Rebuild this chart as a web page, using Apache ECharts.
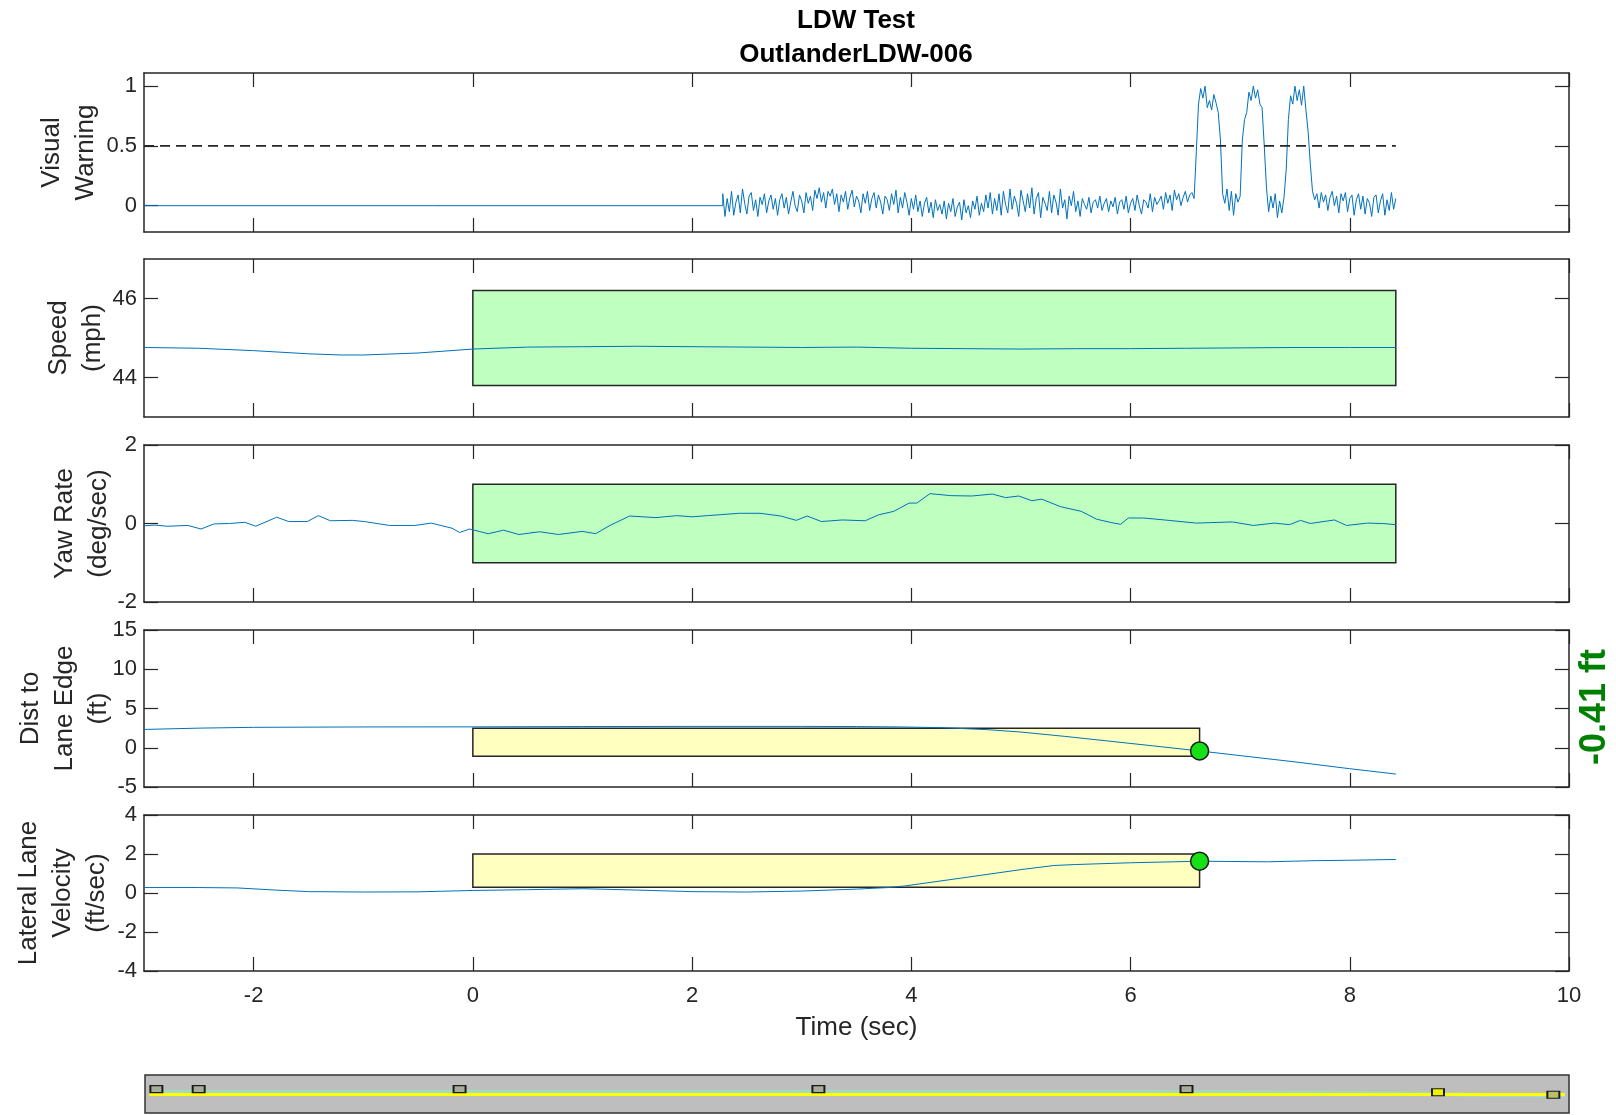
<!DOCTYPE html>
<html><head><meta charset="utf-8">
<script src="https://cdn.jsdelivr.net/npm/echarts@6/dist/echarts.min.js"></script>
<style>html,body{margin:0;padding:0;background:#fff}#c{width:1616px;height:1115px}</style>
</head><body><div id="c"></div>
<script>
// ---------------- DATA ----------------
const xTicks = [-2, 0, 2, 4, 6, 8, 10];
const vwTicks = [0, 0.5, 1];
const speedTicks = [44, 46];
const yawTicks = [-2, 0, 2];
const distTicks = [-5, 0, 5, 10, 15];
const latTicks = [-4, -2, 0, 2, 4];

// Visual warning: flat part, then samples every 0.02 s from 2.28 s
const vwFlatT = [-3, 2.28];
const vwFlatV = [0, 0];
const vwStart = 2.28, vwStep = 0.02;
const vwValues = [
 0.10,-0.09,0.06,-0.05,0.12,-0.08,0.03,0.09,-0.06,0.14,0.02,-0.07,0.08,0.11,-0.04,0.05,-0.09,0.07,0.01,0.10,-0.06,0.04,0.09,-0.03,0.06,
 -0.08,0.05,0.10,-0.02,0.07,-0.07,0.03,0.12,0.00,-0.05,0.09,0.04,-0.06,0.11,0.02,0.08,-0.04,0.13,0.06,0.15,0.03,0.11,-0.02,0.12,0.08,
 0.14,0.01,0.10,-0.05,0.09,0.03,0.12,-0.03,0.07,0.13,-0.01,0.08,0.04,-0.06,0.10,0.02,0.12,-0.04,0.06,0.11,-0.02,0.09,0.03,-0.07,0.08,
 0.05,-0.04,0.10,0.01,0.13,-0.06,0.07,-0.02,0.11,0.03,-0.08,0.06,-0.03,0.09,-0.05,0.04,-0.09,0.02,0.07,-0.06,0.03,-0.10,0.05,-0.04,0.01,
 -0.07,0.04,-0.11,0.02,-0.05,0.06,-0.09,-0.01,0.03,-0.12,0.05,-0.06,0.00,-0.10,0.04,-0.03,0.08,-0.08,0.02,-0.05,0.09,-0.02,0.11,-0.07,0.06,
 -0.04,0.10,-0.08,0.12,0.01,-0.06,0.14,-0.03,0.08,0.02,-0.09,0.13,0.04,-0.05,0.10,-0.02,0.15,-0.07,0.06,0.11,-0.10,0.07,0.02,-0.04,0.12,
 -0.06,0.09,0.03,-0.08,0.14,-0.02,0.05,-0.11,0.08,0.00,0.12,-0.05,0.04,-0.09,0.06,0.01,-0.03,0.07,-0.06,0.03,0.05,-0.02,0.08,-0.04,0.02,
 0.06,-0.05,0.04,-0.01,0.07,-0.07,0.03,0.05,-0.03,0.08,-0.06,0.02,0.06,-0.04,0.09,0.00,-0.07,0.05,0.03,-0.02,0.10,-0.05,0.07,0.01,0.04,
 0.08,-0.03,0.11,0.02,0.09,-0.04,0.13,0.05,0.10,0.00,0.07,0.12,0.03,0.09,0.11,0.06,
 0.45,0.85,0.98,0.90,1.00,0.82,0.88,0.80,0.93,0.86,0.78,0.55,0.10,0.02,0.14,-0.04,0.12,-0.08,0.10,0.03,
 0.08,0.55,0.72,0.78,0.95,0.88,1.00,0.90,0.97,0.85,0.82,0.50,0.15,-0.05,0.08,-0.02,0.10,-0.10,0.04,-0.06,
 0.07,0.30,0.72,0.92,0.85,1.00,0.88,0.97,0.84,1.00,0.80,0.62,0.35,0.12,0.05,0.10,-0.02,0.11,
 0.03,0.09,-0.04,0.07,0.12,0.00,0.08,-0.06,0.10,0.04,0.11,-0.05,0.06,0.09,-0.08,0.05,0.10,-0.03,0.08,-0.07,
 0.06,0.02,-0.09,0.07,0.09,-0.06,0.04,0.10,-0.08,0.05,-0.04,0.11,-0.03,0.06
];
const vwThreshold = 0.5;
const vwThresholdT = [-3, 8.42];

const speedT = [-3,-2.5,-2,-1.5,-1.2,-1,-0.5,0,0.5,1,1.5,2,2.5,3,3.5,4,4.5,5,5.5,6,6.5,7,7.5,8,8.42];
const speedV = [44.76,44.74,44.68,44.6,44.57,44.57,44.62,44.72,44.77,44.78,44.79,44.78,44.77,44.76,44.77,44.74,44.73,44.72,44.73,44.73,44.74,44.75,44.76,44.76,44.76];
const speedBox = [0, 8.42, 43.8, 46.2];

const yawT = [-3,-2.9,-2.79,-2.6,-2.48,-2.36,-2.22,-2.08,-1.98,-1.79,-1.68,-1.51,-1.41,-1.3,-1.1,-0.99,-0.76,-0.53,-0.38,-0.19,-0.12,-0.03,0.14,0.28,0.42,0.61,0.78,1.0,1.12,1.25,1.43,1.67,1.86,2.0,2.14,2.43,2.62,2.81,2.95,3.05,3.18,3.37,3.58,3.7,3.84,3.98,4.05,4.17,4.36,4.55,4.74,4.86,4.98,5.1,5.19,5.36,5.55,5.69,5.83,5.91,5.98,6.12,6.31,6.6,6.93,7.12,7.31,7.45,7.55,7.64,7.86,7.97,8.16,8.3,8.42];
const yawV = [-0.06,-0.04,-0.07,-0.05,-0.14,-0.01,0.0,0.03,-0.07,0.16,0.05,0.05,0.2,0.07,0.08,0.05,-0.05,-0.05,0.01,-0.12,-0.23,-0.14,-0.26,-0.17,-0.28,-0.21,-0.28,-0.2,-0.26,-0.05,0.19,0.15,0.2,0.17,0.2,0.26,0.26,0.19,0.08,0.19,0.05,0.09,0.07,0.22,0.31,0.52,0.52,0.76,0.71,0.7,0.75,0.66,0.7,0.58,0.62,0.43,0.31,0.11,0.02,-0.02,0.14,0.14,0.09,0.01,0.04,-0.05,0.01,-0.03,0.08,0,0.09,-0.05,0.01,0,-0.03];
const yawBox = [0, 8.42, -1, 1];

const distT = [-3,-2.5,-2,-1,0,1,2,3,3.5,3.9,4.3,4.7,5.0,5.4,5.8,6.2,6.63,7.0,7.5,8.0,8.42];
const distV = [2.33,2.5,2.6,2.65,2.66,2.7,2.72,2.72,2.7,2.65,2.55,2.3,2.0,1.45,0.85,0.25,-0.41,-1.0,-1.8,-2.67,-3.35];
const distBox = [0, 6.63, -1.07, 2.5];
const distDot = [6.63, -0.41];

const latT = [-3,-2.5,-2.15,-1.8,-1.5,-1,-0.5,0,0.5,1,1.5,2,2.5,3,3.5,3.79,3.94,4.5,5.0,5.3,5.5,6.0,6.63,7.25,7.7,8.0,8.42];
const latV = [0.28,0.28,0.26,0.15,0.07,0.05,0.06,0.13,0.17,0.22,0.15,0.07,0.05,0.1,0.2,0.28,0.36,0.8,1.2,1.41,1.46,1.55,1.63,1.6,1.66,1.68,1.72];
const latBox = [0, 6.63, 0.3, 2.0];
const latDot = [6.63, 1.63];

// bottom lane strip (station 0-100 across, lateral 0-1)
const laneX = [0.3, 99.7];
const laneY = [0.49, 0.49];
const pathX = [0.8, 20, 50, 70, 82, 88, 91, 95, 99.7];
const pathY = [0.56, 0.56, 0.56, 0.55, 0.54, 0.52, 0.5, 0.47, 0.46];
const carX = [0.8, 3.77, 22.09, 47.29, 73.14, 90.8, 98.9];
const carY = [0.63, 0.63, 0.63, 0.63, 0.63, 0.545, 0.48];
const carFill = ['#A5AD9C','#A5AD9C','#A5AD9C','#A5AD9C','#A5AD9C','#F2F200','#B9C068'];

// ---------------- BUILD ----------------
const FONT = "'Liberation Sans', Arial, sans-serif";
const AX = '#262626';
const BLUE = '#0072BD';
const GREENBOX = '#BFFFBF';
const YELLOWBOX = '#FFFFC0';
const zip = (a, b) => a.map((v, i) => [v, b[i]]);

const vwData = zip(vwFlatT, vwFlatV).concat(vwValues.map((v, i) => [+(vwStart + i * vwStep).toFixed(2), v]));

const panels = [
  {top: 73,  h: 159, ymin: -0.22, ymax: 1.11, ticks: vwTicks,    name: 'Visual\nWarning',              gap: 41},
  {top: 259, h: 158, ymin: 43,    ymax: 47,   ticks: speedTicks, name: 'Speed\n(mph)',                 gap: 34},
  {top: 445, h: 157, ymin: -2,    ymax: 2,    ticks: yawTicks,   name: 'Yaw Rate\n(deg/sec)',          gap: 28},
  {top: 630, h: 157, ymin: -5,    ymax: 15,   ticks: distTicks,  name: 'Dist to\nLane Edge\n(ft)',     gap: 28},
  {top: 815, h: 156, ymin: -4,    ymax: 4,    ticks: latTicks,   name: 'Lateral Lane\nVelocity\n(ft/sec)', gap: 30}
];
const LEFT = 144, WIDTH = 1425;

const grid = [], xAxis = [], yAxis = [], series = [];
const lineAx = {onZero: false, lineStyle: {color: AX, width: 1.5}};
const tickSt = {color: AX, width: 1.2};
panels.forEach((p, i) => {
  grid.push({left: LEFT, top: p.top, width: WIDTH, height: p.h, show: false, outerBoundsMode: 'none'});
  ['bottom', 'top'].forEach(pos => {
    xAxis.push({
      gridIndex: i, type: 'value', min: -3, max: 10, position: pos,
      axisLine: lineAx,
      axisTick: {show: true, inside: true, length: 14, customValues: xTicks, lineStyle: tickSt},
      axisLabel: {show: pos === 'bottom' && i === 4, customValues: xTicks, margin: 14,
        color: AX, fontFamily: FONT, fontSize: 22},
      splitLine: {show: false},
      name: (pos === 'bottom' && i === 4) ? 'Time (sec)' : '',
      nameLocation: 'middle', nameGap: 44, nameMoveOverlap: false,
      nameTextStyle: {color: AX, fontFamily: FONT, fontSize: 26}
    });
  });
  ['left', 'right'].forEach(pos => {
    yAxis.push({
      gridIndex: i, type: 'value', min: p.ymin, max: p.ymax, position: pos,
      axisLine: {show: true, onZero: false, lineStyle: {color: AX, width: 1.5}},
      axisTick: {show: true, inside: true, length: 14, customValues: p.ticks, lineStyle: tickSt},
      axisLabel: {show: pos === 'left', customValues: p.ticks, margin: 7,
        color: AX, fontFamily: FONT, fontSize: 22},
      splitLine: {show: false},
      name: pos === 'left' ? p.name : '',
      nameLocation: 'middle', nameRotate: 90, nameGap: p.gap, nameMoveOverlap: false,
      nameTextStyle: {color: AX, fontFamily: FONT, fontSize: 26, lineHeight: 34}
    });
  });
});

// lane strip grid
grid.push({left: 145, top: 1075, width: 1424, height: 38, show: true,
  backgroundColor: '#BEBEBE', borderColor: '#333333', borderWidth: 1.5, outerBoundsMode: 'none'});
xAxis.push({gridIndex: 5, type: 'value', min: 0, max: 100, show: false});
yAxis.push({gridIndex: 5, type: 'value', min: 0, max: 1, show: false});

function boxRender(fill) {
  return function (params, api) {
    const p0 = api.coord([api.value(0), api.value(3)]);
    const p1 = api.coord([api.value(1), api.value(2)]);
    return {type: 'rect', shape: {x: p0[0], y: p0[1], width: p1[0] - p0[0], height: p1[1] - p0[1]},
      style: {fill: fill, stroke: AX, lineWidth: 1.5}};
  };
}
function boxSeries(idx, box, fill) {
  return {type: 'custom', xAxisIndex: idx, yAxisIndex: idx, renderItem: boxRender(fill),
    data: [box], encode: {x: [0, 1], y: [2, 3]}, z: 1, silent: true};
}
function lineSeries(idx, data, extra) {
  return Object.assign({type: 'line', xAxisIndex: idx, yAxisIndex: idx, data: data,
    showSymbol: false, symbol: 'none', lineStyle: {color: BLUE, width: 1}, z: 3, silent: true}, extra || {});
}
function dotSeries(idx, pt) {
  return {type: 'scatter', xAxisIndex: idx, yAxisIndex: idx, data: [pt], symbol: 'circle', symbolSize: 18,
    itemStyle: {color: '#16E016', borderColor: '#1A1A1A', borderWidth: 1.5, opacity: 1}, z: 6, silent: true};
}

// panel 1
series.push(lineSeries(0, vwData, {lineStyle: {color: BLUE, width: 1}}));
series.push(lineSeries(0, vwThresholdT.map(t => [t, vwThreshold]),
  {lineStyle: {color: AX, width: 1.6, type: [10, 6]}, z: 4}));
// panel 2
series.push(boxSeries(2, speedBox, GREENBOX));
series.push(lineSeries(2, zip(speedT, speedV)));
// panel 3
series.push(boxSeries(4, yawBox, GREENBOX));
series.push(lineSeries(4, zip(yawT, yawV)));
// panel 4
series.push(boxSeries(6, distBox, YELLOWBOX));
series.push(lineSeries(6, zip(distT, distV)));
series.push(dotSeries(6, distDot));
// panel 5
series.push(boxSeries(8, latBox, YELLOWBOX));
series.push(lineSeries(8, zip(latT, latV)));
series.push(dotSeries(8, latDot));
// strip
series.push({type: 'line', xAxisIndex: 10, yAxisIndex: 10, data: zip(pathX, pathY), symbol: 'none',
  lineStyle: {color: '#A4D8C6', width: 4}, z: 2, silent: true});
series.push({type: 'line', xAxisIndex: 10, yAxisIndex: 10, data: zip(laneX, laneY), symbol: 'none',
  lineStyle: {color: '#FFFF00', width: 3}, z: 3, silent: true});
series.push({type: 'scatter', xAxisIndex: 10, yAxisIndex: 10,
  data: carX.map((x, i) => ({value: [x, carY[i]], itemStyle: {color: carFill[i]}})),
  symbol: 'rect', symbolSize: [12, 7],
  itemStyle: {borderColor: '#1A1A1A', borderWidth: 1.5, opacity: 1}, z: 5, silent: true});

const option = {
  animation: false,
  backgroundColor: '#ffffff',
  title: {text: 'LDW Test\nOutlanderLDW-006', left: 856, top: 4, padding: 0, textAlign: 'center',
    textStyle: {fontFamily: FONT, fontWeight: 'bold', fontSize: 26, color: '#000', lineHeight: 34}},
  grid, xAxis, yAxis, series,
  graphic: [{type: 'text', x: 1595, y: 707, rotation: Math.PI / 2,
    style: {text: distDot[1].toFixed(2) + ' ft', font: "bold 36px 'Liberation Sans', Arial, sans-serif",
      fill: '#008000', align: 'center', verticalAlign: 'middle'}}]
};
const chart = echarts.init(document.getElementById('c'), null, {renderer: 'canvas'});
chart.setOption(option);
</script></body></html>
